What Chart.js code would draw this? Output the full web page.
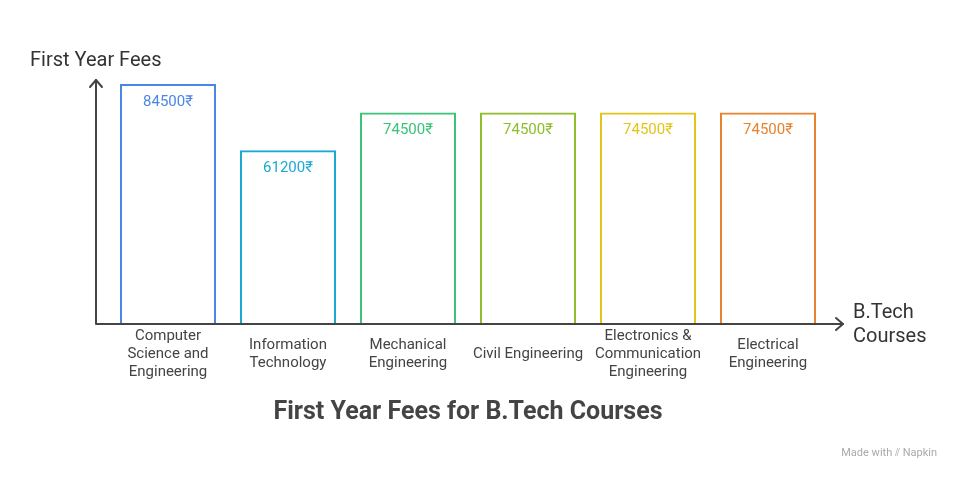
<!DOCTYPE html>
<html><head><meta charset="utf-8">
<script src="https://cdn.jsdelivr.net/npm/chart.js@4"></script>
<style>html,body{margin:0;padding:0;background:#fff}</style>
</head><body>
<canvas id="c" width="960" height="480"></canvas>
<script>
const categories = [["Computer","Science and","Engineering"],["Information","Technology"],["Mechanical","Engineering"],["Civil Engineering"],["Electronics &","Communication","Engineering"],["Electrical","Engineering"]];
const fees = [84500, 61200, 74500, 74500, 74500, 74500];
const colors = ["#4a86e4","#1ba9d3","#3cc37a","#8fbd2c","#e3c41b","#e6832f"];
const valueLabels = fees.map(v => v + "₹");

const deco = {
  id: 'deco',
  afterDraw(chart) {
    const ctx = chart.ctx, x = chart.scales.x, y = chart.scales.y;
    const ox = 96, oy = y.getPixelForValue(0);
    ctx.save();
    ctx.strokeStyle = '#444'; ctx.lineWidth = 2; ctx.lineCap='round'; ctx.lineJoin='round';
    ctx.beginPath(); ctx.moveTo(ox, oy); ctx.lineTo(ox, 80); ctx.moveTo(ox, oy); ctx.lineTo(843, oy); ctx.stroke();
    ctx.beginPath(); ctx.moveTo(ox-6, 87); ctx.lineTo(ox, 80); ctx.lineTo(ox+6, 87);
    ctx.moveTo(836, oy-6); ctx.lineTo(843, oy); ctx.lineTo(836, oy+6); ctx.stroke();
    ctx.font = '15px Roboto'; ctx.textAlign = 'center'; ctx.textBaseline = 'middle';
    fees.forEach((v, i) => {
      const px = x.getPixelForValue(i);
      ctx.fillStyle = colors[i];
      ctx.fillText(valueLabels[i], px, y.getPixelForValue(v) + 18);
      ctx.fillStyle = '#444';
      const lines = categories[i], n = lines.length;
      lines.forEach((l, j) => ctx.fillText(l, px, 354 + (j - (n-1)/2) * 18));
    });
    ctx.font = '20px Roboto'; ctx.textAlign = 'left'; ctx.fillStyle = '#333';
    ctx.fillText('First Year Fees', 30, 61);
    ctx.fillText('B.Tech', 853, 313);
    ctx.fillText('Courses', 853, 337);
    ctx.font = 'bold 25px Roboto'; ctx.textAlign = 'center'; ctx.fillStyle = '#444';
    ctx.fillText('First Year Fees for B.Tech Courses', 468, 413);
    ctx.font = '11px Roboto'; ctx.textAlign = 'right'; ctx.fillStyle = '#aaa';
    ctx.fillText('Made with ⫽ Napkin', 937, 453);
    ctx.restore();
  }
};

new Chart(document.getElementById('c'), {
  type: 'bar',
  data: { labels: categories.map(c => c.join(' ')), datasets: [{
    data: fees, backgroundColor: 'rgba(255,255,255,0)', borderColor: colors, borderWidth: 2,
    categoryPercentage: 1, barPercentage: 0.8 }] },
  options: {
    responsive: false, animation: false,
    layout: { padding: { left: 108, right: 132, top: 84, bottom: 156 } },
    plugins: { legend: { display: false }, tooltip: { enabled: false } },
    scales: { x: { display: false }, y: { display: false, min: 0, max: 84500 } }
  },
  plugins: [deco]
});
</script>
</body></html>
